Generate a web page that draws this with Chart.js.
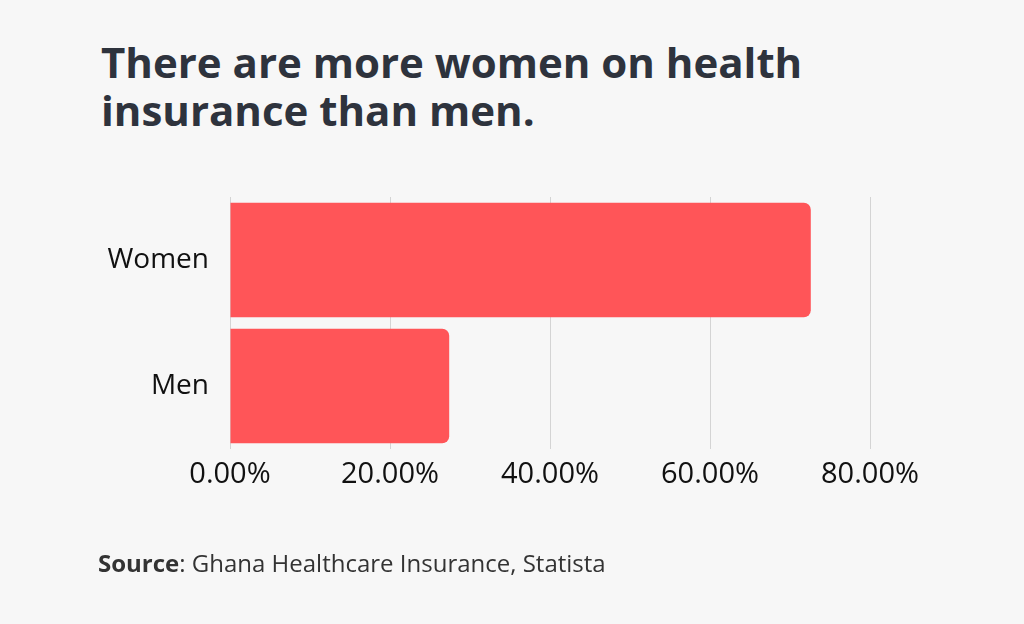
<!DOCTYPE html>
<html>
<head>
<meta charset="utf-8">
<script src="https://cdn.jsdelivr.net/npm/chart.js@4"></script>
<style>
  html, body { margin: 0; padding: 0; background: #f7f7f7; }
  #wrap { position: relative; width: 1024px; height: 624px; overflow: hidden; }
  #title { position: absolute; left: 101px; top: 38px; margin: 0; font-family: "Open Sans", sans-serif; font-weight: 700; font-size: 42px; line-height: 48px; color: #2e333d; }
  #source { position: absolute; left: 98px; top: 546px; font-family: "Open Sans", sans-serif; font-size: 24px; color: #333; }
  #source b { font-weight: 700; }
  canvas { position: absolute; left: 0; top: 0; }
</style>
</head>
<body>
<div id="wrap">
  <h1 id="title">There are more women on health<br>insurance than men.</h1>
  <canvas id="chart" width="1024" height="624"></canvas>
  <div id="source"><b>Source</b>: Ghana Healthcare Insurance, Statista</div>
</div>
<script>
// data
var categories = ["Women", "Men"];
var shares = [72.6, 27.4];
var axisTicks = [0, 20, 40, 60, 80];

var ctx = document.getElementById("chart").getContext("2d");
var chart = new Chart(ctx, {
  type: 'bar',
  data: {
    labels: categories,
    datasets: [{
      label: 'Share',
      data: shares,
      backgroundColor: '#ff5558',
      borderRadius: 7,
      borderSkipped: 'start',
      barPercentage: 0.91,
      categoryPercentage: 1
    }]
  },
  options: {
    indexAxis: 'y',
    responsive: false,
    animation: false,
    layout: { padding: { top: 197, bottom: 124, left: 0, right: 154 } },
    plugins: { legend: { display: false }, tooltip: { enabled: false } },
    scales: {
      x: {
        min: 0,
        max: 80,
        afterBuildTicks: function(scale) {
          scale.ticks = axisTicks.map(function(v) { return { value: v }; });
        },
        grid: { color: '#d4d4d4', lineWidth: 1, drawTicks: false },
        border: { display: false },
        ticks: {
          padding: 8,
          color: '#111',
          font: { family: 'Open Sans', size: 29 },
          callback: function(v) { return v.toFixed(2) + '%'; }
        },
        afterFit: function(scale) { scale.height = 51; }
      },
      y: {
        grid: { display: false, drawTicks: false },
        border: { display: false },
        ticks: {
          padding: 21,
          color: '#111',
          font: { family: 'Open Sans', size: 28 }
        },
        afterFit: function(scale) { scale.width = 230; }
      }
    }
  }
});
</script>
</body>
</html>
